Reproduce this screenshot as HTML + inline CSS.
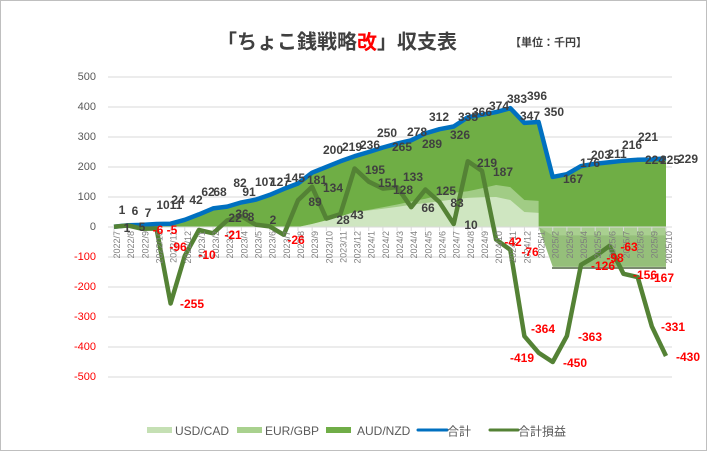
<!DOCTYPE html>
<html><head><meta charset="utf-8"><style>
html,body{margin:0;padding:0;background:#fff;}
svg{display:block;font-family:"Liberation Sans","Noto Sans CJK JP",sans-serif;}
.t{font-size:12px;font-weight:bold;fill:#404040;text-anchor:middle;dominant-baseline:central;}
.r{font-size:12px;font-weight:bold;fill:#ff0000;text-anchor:middle;dominant-baseline:central;}
.y{font-size:11px;fill:#595959;text-anchor:end;dominant-baseline:central;}
.yr{font-size:11px;fill:#ff0000;text-anchor:end;dominant-baseline:central;}
.x{font-size:9px;fill:#7f7f7f;text-anchor:end;dominant-baseline:central;}
.lg{font-size:12px;fill:#595959;dominant-baseline:central;}
</style></head><body>
<svg id="s" width="707" height="451" viewBox="0 0 707 451" xmlns="http://www.w3.org/2000/svg">
<rect x="0.5" y="0.5" width="706" height="450" fill="#fff" stroke="#bfbfbf"/>
<text x="217" y="40" style="font-size:20px;font-weight:bold;fill:#404040;dominant-baseline:central;font-family:'Noto Sans CJK JP',sans-serif">「ちょこ銭戦略<tspan fill="#ff0000">改</tspan>」収支表</text>
<text x="510" y="42" style="font-size:11px;font-weight:bold;fill:#404040;dominant-baseline:central;font-family:'Noto Sans CJK JP',sans-serif">【単位：千円】</text>
<g id="grid" stroke="#d9d9d9" stroke-width="1"></g>
<g class="y">
<text x="96" y="77">500</text><text x="96" y="107">400</text><text x="96" y="137">300</text><text x="96" y="167">200</text><text x="96" y="197">100</text><text x="96" y="227">0</text>
</g>
<g class="yr">
<text x="96" y="257">-100</text><text x="96" y="287">-200</text><text x="96" y="317">-300</text><text x="96" y="347">-400</text><text x="96" y="377">-500</text>
</g>
<path id="aGreen" fill="#6fae45"/>
<path id="aEur" fill="#a6cf8c" opacity="0.9"/>
<path id="aUsd" fill="#d2e7c4" opacity="0.95"/>
<path id="nEur" fill="#95bf7a"/>
<path id="nUsd" fill="#a9cf90"/>
<line x1="552" y1="268" x2="666" y2="268" stroke="#7a8a70" stroke-width="2"/>
<g id="xl"></g>
<path id="lTot" fill="none" stroke="#0070c0" stroke-width="4.5" stroke-linejoin="round"/>
<path id="lPL" fill="none" stroke="#548235" stroke-width="4.5" stroke-linejoin="round"/>
<g id="xlab">
<text class="x" transform="translate(117,231) rotate(-90)">2022/7</text>
<text class="x" transform="translate(131.2,231) rotate(-90)">2022/8</text>
<text class="x" transform="translate(145.3,231) rotate(-90)">2022/9</text>
<text class="x" transform="translate(159.5,231) rotate(-90)">2022/10</text>
<text class="x" transform="translate(173.6,231) rotate(-90)">2022/11</text>
<text class="x" transform="translate(187.8,231) rotate(-90)">2022/12</text>
<text class="x" transform="translate(201.9,231) rotate(-90)">2023/1</text>
<text class="x" transform="translate(216.1,231) rotate(-90)">2023/2</text>
<text class="x" transform="translate(230.2,231) rotate(-90)">2023/3</text>
<text class="x" transform="translate(244.4,231) rotate(-90)">2023/4</text>
<text class="x" transform="translate(258.5,231) rotate(-90)">2023/5</text>
<text class="x" transform="translate(272.7,231) rotate(-90)">2023/6</text>
<text class="x" transform="translate(286.8,231) rotate(-90)">2023/7</text>
<text class="x" transform="translate(301,231) rotate(-90)">2023/8</text>
<text class="x" transform="translate(315.1,231) rotate(-90)">2023/9</text>
<text class="x" transform="translate(329.3,231) rotate(-90)">2023/10</text>
<text class="x" transform="translate(343.4,231) rotate(-90)">2023/11</text>
<text class="x" transform="translate(357.6,231) rotate(-90)">2023/12</text>
<text class="x" transform="translate(371.7,231) rotate(-90)">2024/1</text>
<text class="x" transform="translate(385.9,231) rotate(-90)">2024/2</text>
<text class="x" transform="translate(400,231) rotate(-90)">2024/3</text>
<text class="x" transform="translate(414.2,231) rotate(-90)">2024/4</text>
<text class="x" transform="translate(428.3,231) rotate(-90)">2024/5</text>
<text class="x" transform="translate(442.5,231) rotate(-90)">2024/6</text>
<text class="x" transform="translate(456.6,231) rotate(-90)">2024/7</text>
<text class="x" transform="translate(470.8,231) rotate(-90)">2024/8</text>
<text class="x" transform="translate(484.9,231) rotate(-90)">2024/9</text>
<text class="x" transform="translate(499.1,231) rotate(-90)">2024/10</text>
<text class="x" transform="translate(513.2,231) rotate(-90)">2024/11</text>
<text class="x" transform="translate(527.4,231) rotate(-90)">2024/12</text>
<text class="x" transform="translate(541.5,231) rotate(-90)">2025/1</text>
<text class="x" transform="translate(555.7,231) rotate(-90)">2025/2</text>
<text class="x" transform="translate(569.8,231) rotate(-90)">2025/3</text>
<text class="x" transform="translate(584,231) rotate(-90)">2025/4</text>
<text class="x" transform="translate(598.1,231) rotate(-90)">2025/5</text>
<text class="x" transform="translate(612.3,231) rotate(-90)">2025/6</text>
<text class="x" transform="translate(626.4,231) rotate(-90)">2025/7</text>
<text class="x" transform="translate(640.6,231) rotate(-90)">2025/8</text>
<text class="x" transform="translate(654.7,231) rotate(-90)">2025/9</text>
<text class="x" transform="translate(668.9,231) rotate(-90)">2025/10</text>
</g>
<g>
<text class="t" x="122" y="210">1</text><text class="t" x="135" y="211">6</text><text class="t" x="148" y="213">7</text>
<text class="t" x="163" y="205">10</text><text class="t" x="176" y="205">11</text>
<text class="t" x="178" y="200">24</text><text class="t" x="196" y="200">42</text>
<text class="t" x="208" y="192">62</text><text class="t" x="220" y="192">68</text>
<text class="t" x="240" y="183">82</text><text class="t" x="249" y="192">91</text>
<text class="t" x="265" y="182">107</text><text class="t" x="280" y="182">127</text><text class="t" x="295" y="178">145</text>
<text class="t" x="317" y="180">181</text><text class="t" x="333" y="150">200</text><text class="t" x="352" y="147">219</text><text class="t" x="370" y="145">236</text>
<text class="t" x="387" y="133">250</text><text class="t" x="402" y="147">265</text><text class="t" x="417" y="132">278</text><text class="t" x="432" y="144">289</text>
<text class="t" x="439" y="117">312</text><text class="t" x="460" y="135">326</text><text class="t" x="468" y="117">335</text><text class="t" x="482" y="112">366</text>
<text class="t" x="499" y="106">374</text><text class="t" x="517" y="99">383</text><text class="t" x="537" y="96">396</text><text class="t" x="530" y="116">347</text><text class="t" x="554" y="112">350</text>
<text class="t" x="573" y="179">167</text><text class="t" x="590" y="163">176</text><text class="t" x="601" y="155">203</text><text class="t" x="617" y="154">211</text>
<text class="t" x="632" y="145">216</text><text class="t" x="648" y="137">221</text><text class="t" x="655" y="160">224</text><text class="t" x="670" y="160">225</text><text class="t" x="688" y="159">229</text>
<text class="t" x="127" y="228">1</text><text class="t" x="142" y="227">5</text>
<text class="t" x="235" y="218">22</text><text class="t" x="242" y="214">36</text><text class="t" x="251" y="217">8</text><text class="t" x="273" y="220">2</text>
<text class="t" x="315" y="202">89</text><text class="t" x="333" y="188">134</text><text class="t" x="343" y="220">28</text><text class="t" x="357" y="215">43</text>
<text class="t" x="375" y="170">195</text><text class="t" x="388" y="183">151</text><text class="t" x="403" y="190">128</text><text class="t" x="413" y="177">133</text>
<text class="t" x="428" y="208">66</text><text class="t" x="446" y="191">125</text><text class="t" x="457" y="203">83</text><text class="t" x="471" y="225">10</text>
<text class="t" x="487" y="163">219</text><text class="t" x="503" y="172">187</text>
<text class="r" x="158" y="230">-6</text><text class="r" x="172" y="230">-5</text><text class="r" x="178" y="247">-96</text><text class="r" x="192" y="304">-255</text>
<text class="r" x="207" y="255">-10</text><text class="r" x="233" y="235">-21</text><text class="r" x="296" y="240">-26</text>
<text class="r" x="513" y="242">-42</text><text class="r" x="530" y="252">-76</text><text class="r" x="543" y="329">-364</text><text class="r" x="522" y="358">-419</text>
<text class="r" x="575" y="363">-450</text><text class="r" x="590" y="337">-363</text><text class="r" x="603" y="266">-126</text><text class="r" x="615" y="258">-98</text>
<text class="r" x="629" y="247">-63</text><text class="r" x="645" y="275">-156</text><text class="r" x="662" y="278">-167</text><text class="r" x="673" y="327">-331</text><text class="r" x="688" y="357">-430</text>
</g>
<g>
<rect x="147" y="427" width="25" height="6" fill="#c5e0b4"/><text class="lg" x="175" y="431">USD/CAD</text>
<rect x="237" y="427" width="25" height="6" fill="#a9d18e"/><text class="lg" x="265" y="431">EUR/GBP</text>
<rect x="326" y="427" width="25" height="6" fill="#70ad47"/><text class="lg" x="357" y="431">AUD/NZD</text>
<line x1="418" y1="430" x2="447" y2="430" stroke="#0070c0" stroke-width="3" stroke-linecap="round"/><text class="lg" x="447" y="431" style="font-family:'Noto Sans CJK JP',sans-serif">合計</text>
<line x1="490" y1="430" x2="518" y2="430" stroke="#548235" stroke-width="3" stroke-linecap="round"/><text class="lg" x="518" y="431" style="font-family:'Noto Sans CJK JP',sans-serif">合計損益</text>
</g>
</svg>
<script>
(function(){
var X=function(i){return 114+i*14.153;}, Y=function(v){return 227-0.3*v;};
var tot=[1,6,7,10,11,24,42,62,68,82,91,107,127,145,181,200,219,236,250,265,278,289,312,326,335,366,374,383,396,347,350,167,176,203,211,216,221,224,225,229];
var pl=[1,5,-6,-5,-255,-96,-10,-21,22,36,8,2,-26,89,134,28,43,195,151,128,133,66,125,83,10,219,187,-42,-76,-364,-419,-450,-363,-126,-98,-63,-156,-167,-331,-430];
var i;
var us=[0,0,0,0,0,0,0,0,0,0,0,0,0,0,10,22,35,50,55,61,67,74,80,86,92,97,99,100,90,50,47];
var eu=[0,0,0,0,0,0,0,0,0,0,0,0,0,0,0,0,0,0,2,5,8,11,14,20,22,22,30,40,43,40,40];
var g=document.getElementById('grid');
for(i=0;i<11;i++){var yy=77+i*30;g.innerHTML+='<line x1="108" x2="672" y1="'+yy+'" y2="'+yy+'"/>';}
function line(a){var d='';for(var k=0;k<a.length;k++)d+=(k?'L':'M')+X(k).toFixed(1)+' '+Y(a[k]).toFixed(1);return d;}
function area(top,bot,n){var d='',k;for(k=0;k<n;k++)d+=(k?'L':'M')+X(k).toFixed(1)+' '+Y(top[k]).toFixed(1);for(k=n-1;k>=0;k--)d+='L'+X(k).toFixed(1)+' '+Y(bot[k]).toFixed(1);return d+'Z';}
var zero=tot.map(function(){return 0;});
document.getElementById('aGreen').setAttribute('d',area(tot,zero,40));
var ue=us.map(function(v,k){return v+eu[k];});
document.getElementById('aEur').setAttribute('d',area(ue,zero.slice(0,31),31));
document.getElementById('aUsd').setAttribute('d',area(us,zero.slice(0,31),31));
var nx0=X(30),nx1=X(31),nxe=X(39);
document.getElementById('nEur').setAttribute('d','M'+nx0+' '+Y(0)+'L'+nx1+' '+Y(-133)+'L'+nxe+' '+Y(-133)+'L'+nxe+' '+Y(0)+'Z');
document.getElementById('nUsd').setAttribute('d','M'+nx0+' '+Y(0)+'L'+nx1+' '+Y(-28)+'L'+nxe+' '+Y(-28)+'L'+nxe+' '+Y(0)+'Z');
var xl=document.getElementById('xl'),h='';
for(i=0;i<40;i++){h+='<line x1="'+X(i)+'" x2="'+X(i)+'" y1="227" y2="231" stroke="#d9d9d9"/>';}
h+='<line x1="108" x2="672" y1="227" y2="227" stroke="#d9d9d9"/>';
xl.innerHTML=h;
document.getElementById('lTot').setAttribute('d',line(tot));
document.getElementById('lPL').setAttribute('d',line(pl));
})();
</script>
</body></html>
